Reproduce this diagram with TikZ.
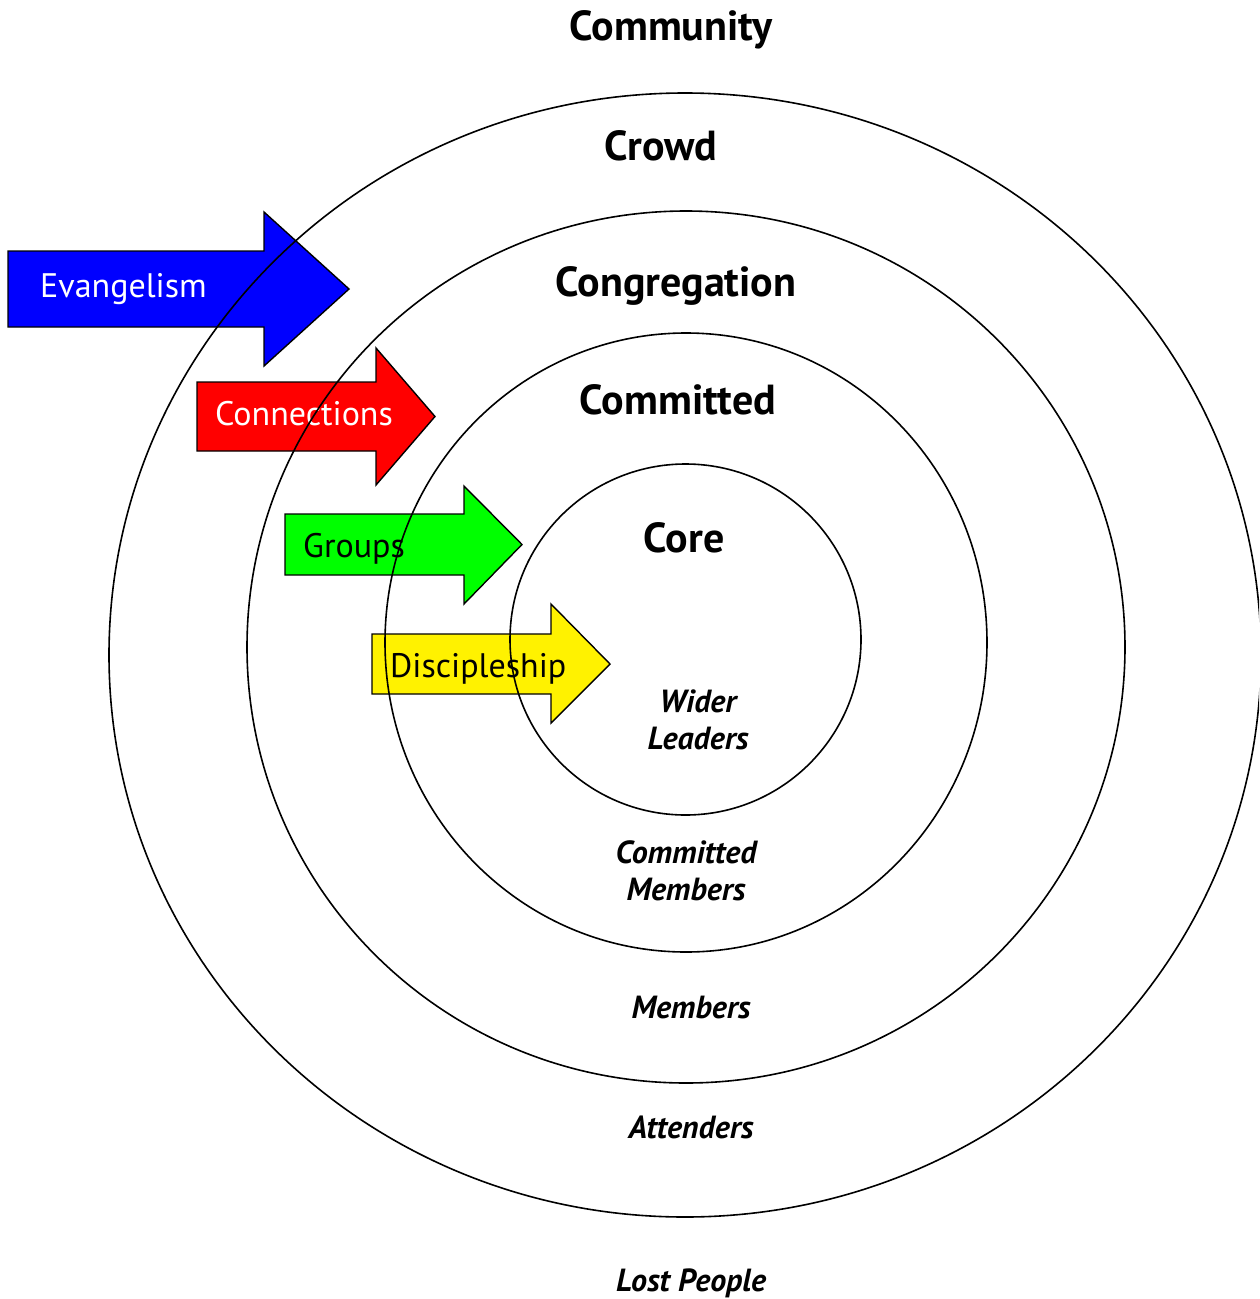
\documentclass[tikz,border=0pt]{standalone}
\usepackage{fontspec}
\setmainfont{PT Sans}
\usepackage{tikz}

\begin{document}
\begin{tikzpicture}[x=1pt,y=-1pt,
  ring/.style={line width=1.6pt},
  arrowbox/.style={draw,line width=1.4pt,line join=miter},
  arrowtext/.style={inner sep=0pt,anchor=base west,font=\fontsize{34}{38}\selectfont},
  band/.style={inner sep=0pt,anchor=base,font=\fontsize{42}{48}\selectfont\bfseries},
  sub/.style={inner sep=0pt,anchor=base,align=center,font=\fontsize{32}{37}\selectfont\bfseries\itshape}]
\useasboundingbox (0,0) rectangle (1259,1299);
% arrows
\foreach \nm/\fc/\tc/\txt/\lx/\yt/\yb/\hx/\yh/\yl/\tx/\px/\py in {
  evan/blue/white/Evangelism/8/251/327/264/212/366/349/40/297,
  conn/red/white/Connections/197/382/451/376/348/485/435/215/425,
  grps/green/black/Groups/285/514/575/464/486/604/522/303/557,
  disc/yellow/black/Discipleship/372/634/694/551/604/723/610/390/677}
{
  \draw[arrowbox,fill=\fc] (\lx,\yt) -- (\hx,\yt) -- (\hx,\yh) -- (\tx,{(\yt+\yb)/2})
    -- (\hx,\yl) -- (\hx,\yb) -- (\lx,\yb) -- cycle;
  \node[arrowtext,text=\tc] (\nm) at (\px,\py) {\txt};
}
% rings
\begin{scope}
\clip (0,0) rectangle (1259,1299);
\draw[ring] (685,655) ellipse [x radius=576pt,y radius=562pt];
\draw[ring] (686,647) ellipse [x radius=439pt,y radius=436pt];
\draw[ring] (686,642.5) ellipse [x radius=301pt,y radius=309.5pt];
\draw[ring] (685.5,639.5) ellipse [x radius=175.5pt,y radius=175.5pt];
\end{scope}
% labels
\node[band] (community) at (671,40) {Community};
\node[band] (crowd) at (661,160) {Crowd};
\node[band] (congregation) at (676,296) {Congregation};
\node[band] (committed) at (678,414) {Committed};
\node[band] (core) at (684,552) {Core};
\node[sub] (leaders) at (698,749) {Wider\\Leaders};
\node[sub] (cmembers) at (686,900) {Committed\\Members};
\node[sub] (members) at (691,1018) {Members};
\node[sub] (attenders) at (691,1138) {Attenders};
\node[sub] (lost) at (691,1291) {Lost People};
\end{tikzpicture}
\end{document}
